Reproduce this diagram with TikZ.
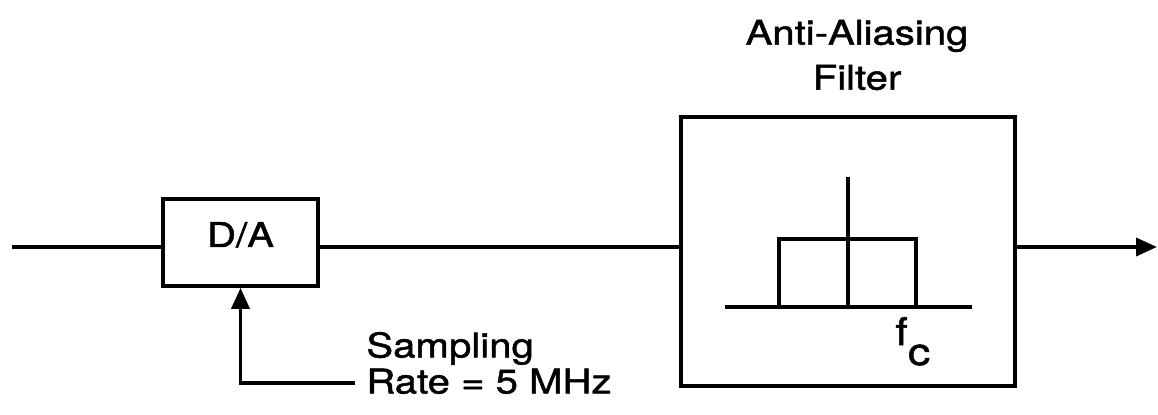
\documentclass[tikz,border=0pt]{standalone}
\usepackage{fontspec}
\setmainfont[FakeStretch=1.18,FakeBold=1.4]{TeX Gyre Heros}
\usepackage{tikz}
\usetikzlibrary{arrows.meta,calc}
\tikzset{
  blockbox/.style={draw,line width=1.9pt,inner sep=0pt,font=\fontsize{17}{18}\selectfont},
  sigline/.style={line width=1.9pt},
  sigarrow/.style={line width=1.9pt,-{Triangle[length=10.5pt,width=9pt]}},
  lbltext/.style={inner sep=0pt,font=\fontsize{17}{18}\selectfont}
}
\begin{document}
\begin{tikzpicture}[x=0.5pt,y=-0.5pt]
\useasboundingbox (0,0) rectangle (1158,415);
\coordinate (src) at (12,247);
\coordinate (out) at (1157,247);
\node[blockbox,minimum width=77.5pt,minimum height=43.5pt,text height=12pt,text depth=7.5pt] (dac) at (240.5,242.5) {D/A};
\node[blockbox,minimum width=167pt,minimum height=134.5pt] (aaf) at (848,251.5) {};
\node[lbltext,align=center,font=\fontsize{17}{22.5}\selectfont] (aaftitle) at (857,55) {Anti-Aliasing\\Filter};
\node[lbltext,align=left,anchor=west] (rate) at (366,363) {Sampling\\Rate = 5 MHz};
\coordinate (clk) at (355,383);
\draw[sigline] (src) -- (src -| dac.west);
\draw[sigline] (dac.east |- src) -- (src -| aaf.west);
\draw[sigarrow] (aaf.east |- src) -- (out);
\draw[sigarrow] (clk) -| (dac.south);
% pass band sketch
\draw[sigline] (725,307) -- (972,307);
\draw[sigline] (779,307) -- (779,239) -- (916,239) -- (916,307);
\draw[sigline] (848,177) -- (848,307);
\node[lbltext,anchor=base west,font=\fontsize{19}{20}\selectfont] (fc) at (895,345) {f\raisebox{-10pt}{c}};
\end{tikzpicture}
\end{document}
